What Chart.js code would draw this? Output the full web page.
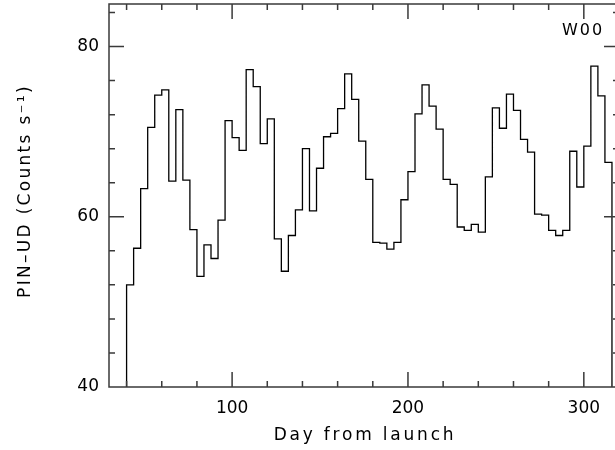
<!DOCTYPE html>
<html>
<head>
<meta charset="utf-8">
<script src="https://cdn.jsdelivr.net/npm/chart.js@4.4.1/dist/chart.umd.min.js"></script>
<style>
  html, body { margin: 0; padding: 0; background: #fff; overflow: hidden; }
  #wrap { width: 630px; height: 450px; }
</style>
</head>
<body>
<div id="wrap"><canvas id="c" width="630" height="450"></canvas></div>
<script>
// ---- data (4-day bins) ----
const binStarts = [40,44,48,52,56,60,64,68,72,76,80,84,88,92,96,100,104,108,112,116,
  120,124,128,132,136,140,144,148,152,156,160,164,168,172,176,180,184,188,192,196,
  200,204,208,212,216,220,224,228,232,236,240,244,248,252,256,260,264,268,272,276,
  280,284,288,292,296,300,304,308,312];
const binEnd = 316;
const rates = [52.0,56.3,63.3,70.5,74.3,74.9,64.2,72.6,64.3,58.5,53.0,56.7,55.1,59.6,71.3,69.3,67.8,77.3,75.3,68.6,
  71.5,57.4,53.6,57.8,60.8,68.0,60.7,65.7,69.4,69.8,72.7,76.8,73.8,68.9,64.4,57.0,56.9,56.2,57.0,62.0,
  65.3,72.1,75.5,73.0,70.3,64.4,63.8,58.8,58.4,59.1,58.2,64.7,72.8,70.4,74.4,72.5,69.1,67.6,60.3,60.2,
  58.4,57.8,58.4,67.7,63.5,68.3,77.7,74.2,66.4];

const xMin = 30, xMax = 320;
const yMin = 40, yMax = 85;
const xMajorTicks = [100, 200, 300];
const xMinorTicks = [40, 60, 80, 120, 140, 160, 180, 220, 240, 260, 280];
const yMajorTicks = [40, 60, 80];
const yMinorTicks = [44, 48, 52, 56, 64, 68, 72, 76, 84];

const xTitle = 'Day from launch';
const yTitle = 'PIN\u2013UD (Counts s\u207B\u00B9)';
const panelLabel = 'W00';

// step points: each bin value is held from its start to the next bin start
const points = [{x: binStarts[0], y: yMin}];
binStarts.forEach((d, i) => points.push({x: d, y: rates[i]}));
points.push({x: binEnd, y: rates[rates.length - 1]});
points.push({x: binEnd, y: yMin});

const FONT = "'DejaVu Sans', 'Liberation Sans', sans-serif";

const framePlugin = {
  id: 'framePlugin',
  afterDatasetsDraw(chart) {
    const {ctx, chartArea: a, scales: {x, y}} = chart;
    ctx.save();
    ctx.strokeStyle = '#3a3a3a';
    ctx.lineWidth = 1.5;
    ctx.beginPath();
    ctx.rect(a.left, a.top, a.right - a.left, a.bottom - a.top);
    const xt = (v, L) => {
      const px = x.getPixelForValue(v);
      ctx.moveTo(px, a.bottom); ctx.lineTo(px, a.bottom - L);
      ctx.moveTo(px, a.top); ctx.lineTo(px, a.top + L);
    };
    const yt = (v, L) => {
      const py = y.getPixelForValue(v);
      ctx.moveTo(a.left, py); ctx.lineTo(a.left + L, py);
      ctx.moveTo(a.right, py); ctx.lineTo(a.right - L, py);
    };
    xMajorTicks.forEach(v => xt(v, 15));
    xMinorTicks.forEach(v => xt(v, 6));
    yMajorTicks.forEach(v => yt(v, 15));
    yMinorTicks.forEach(v => yt(v, 6));
    ctx.stroke();
    ctx.restore();
  },
  afterDraw(chart) {
    const {ctx, chartArea: a} = chart;
    ctx.save();
    ctx.fillStyle = '#000';
    ctx.textAlign = 'center';
    ctx.textBaseline = 'middle';
    ctx.font = '17px ' + FONT;
    try { ctx.letterSpacing = '2.8px'; } catch (e) {}
    ctx.fillText(xTitle, (a.left + a.right) / 2 + 1, 436);
    ctx.save();
    try { ctx.letterSpacing = '2.3px'; } catch (e) {}
    ctx.translate(26, 191);
    ctx.rotate(-Math.PI / 2);
    ctx.fillText(yTitle, 0, 0);
    ctx.restore();
    ctx.font = '16px ' + FONT;
    try { ctx.letterSpacing = '2px'; } catch (e) {}
    ctx.fillText(panelLabel, 583, 31);
    ctx.restore();
  }
};

new Chart(document.getElementById('c'), {
  type: 'line',
  data: {
    datasets: [{
      data: points,
      stepped: 'before',
      borderColor: '#000',
      borderWidth: 1.3,
      pointRadius: 0,
      fill: false,
      tension: 0
    }]
  },
  options: {
    responsive: false,
    devicePixelRatio: 1,
    animation: false,
    layout: { padding: { left: 0, right: 11, top: 4, bottom: 0 } },
    plugins: { legend: { display: false }, tooltip: { enabled: false } },
    scales: {
      x: {
        type: 'linear',
        min: xMin, max: xMax,
        afterBuildTicks: s => { s.ticks = xMajorTicks.map(v => ({value: v})); },
        afterFit: s => { s.height = 63; s.paddingLeft = 0; s.paddingRight = 0; },
        grid: { display: false, drawTicks: false },
        border: { display: false },
        ticks: {
          autoSkip: false, maxRotation: 0, padding: 11,
          color: '#000', font: { family: FONT, size: 17 },
          callback: v => String(v)
        }
      },
      y: {
        type: 'linear',
        min: yMin, max: yMax,
        afterBuildTicks: s => { s.ticks = yMajorTicks.map(v => ({value: v})); },
        afterFit: s => { s.width = 109; s.paddingTop = 0; s.paddingBottom = 0; },
        grid: { display: false, drawTicks: false },
        border: { display: false },
        ticks: {
          autoSkip: false, padding: 10,
          color: '#000', font: { family: FONT, size: 17 },
          callback: v => String(v)
        }
      }
    }
  },
  plugins: [framePlugin]
});
</script>
</body>
</html>
